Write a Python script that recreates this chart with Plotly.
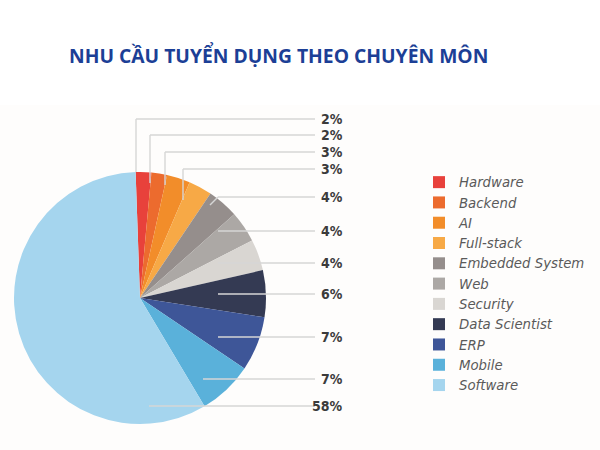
import plotly.graph_objects as go

# data
categories = ["Hardware", "Backend", "AI", "Full-stack", "Embedded System", "Web",
              "Security", "Data Scientist", "ERP", "Mobile", "Software"]
shares = [2, 2, 3, 3, 4, 4, 4, 6, 7, 7, 58]
share_labels = ["2%", "2%", "3%", "3%", "4%", "4%", "4%", "6%", "7%", "7%", "58%"]

colors = ["#e8413b", "#ec6b2e", "#f28d2a", "#f7a946", "#958e8c", "#aca8a5",
          "#d9d6d2", "#343a53", "#3e5698", "#5ab1da", "#a5d5ee"]

W, H = 600, 450


def px(x, y):
    return x / W, 1 - y / H


# leader layout (pixels): label row y, where the line leaves the pie
label_y = [119, 135, 152, 169, 197, 231, 263, 294, 337, 379, 406]
line_x0 = [136, 150, 165, 183, 210, 218, 218, 218, 218, 203, 149]
line_y0 = [172, 183, 185, 200, 205, 231, 263, 294, 337, 379, 406]
line_end = 315
text_right = 344

fig = go.Figure()

fig.add_trace(go.Pie(
    labels=categories,
    values=shares,
    sort=False,
    direction="clockwise",
    rotation=-2,
    marker=dict(colors=colors, line=dict(width=0)),
    textinfo="none",
    hoverinfo="label+percent",
    domain=dict(x=[(140 - 126) / W, (140 + 126) / W],
                y=[1 - (298 + 126) / H, 1 - (298 - 126) / H]),
))

shapes = []
# faint off-white panel behind the chart
shapes.append(dict(type="rect", xref="paper", yref="paper", x0=0, x1=1, y0=0, y1=1 - 105 / H,
                   fillcolor="#fefdfc", line=dict(width=0), layer="below"))

for i in range(len(categories)):
    x0, y0 = px(line_x0[i], line_y0[i])
    xe, ye = px(line_end, label_y[i])
    if line_y0[i] != label_y[i]:
        if i < 4:
            xk = x0  # vertical then horizontal
        else:
            xk = px(line_x0[i] + 8, 0)[0]
        shapes.append(dict(type="line", xref="paper", yref="paper", x0=x0, y0=y0, x1=xk, y1=ye,
                           line=dict(color="#d6d6d6", width=1.4), layer="above"))
        x0 = xk
    shapes.append(dict(type="line", xref="paper", yref="paper", x0=x0, y0=ye, x1=xe, y1=ye,
                       line=dict(color="#d6d6d6", width=1.4), layer="above"))

annotations = []
for i, lab in enumerate(share_labels):
    ax, ay = px(text_right, label_y[i])
    annotations.append(dict(x=ax, y=ay, xref="paper", yref="paper", text="<b>" + lab + "</b>",
                            showarrow=False, xanchor="right", yanchor="middle", borderpad=0,
                            font=dict(family="DejaVu Sans Condensed", size=14, color="#3b3b3b")))

fig.update_layout(
    width=W, height=H,
    margin=dict(l=0, r=0, t=0, b=0),
    paper_bgcolor="white",
    plot_bgcolor="white",
    title=dict(text="<b>NHU CẦU TUYỂN DỤNG THEO CHUYÊN MÔN</b>",
               x=69 / W, xanchor="left", y=1 - 56 / H, yanchor="middle",
               font=dict(family="Open Sans", size=19.3, color="#1c3f96")),
    showlegend=True,
    legend=dict(x=419 / W, xanchor="left", y=1 - 167 / H, yanchor="top",
                font=dict(family="DejaVu Sans", size=13.3, color="#5a5a5a", style="italic"),
                bgcolor="rgba(0,0,0,0)", traceorder="normal"),
    shapes=shapes,
    annotations=annotations,
)

fig.write_html("out.html", config={"displayModeBar": False},
               post_script="document.body.style.margin='0';")
